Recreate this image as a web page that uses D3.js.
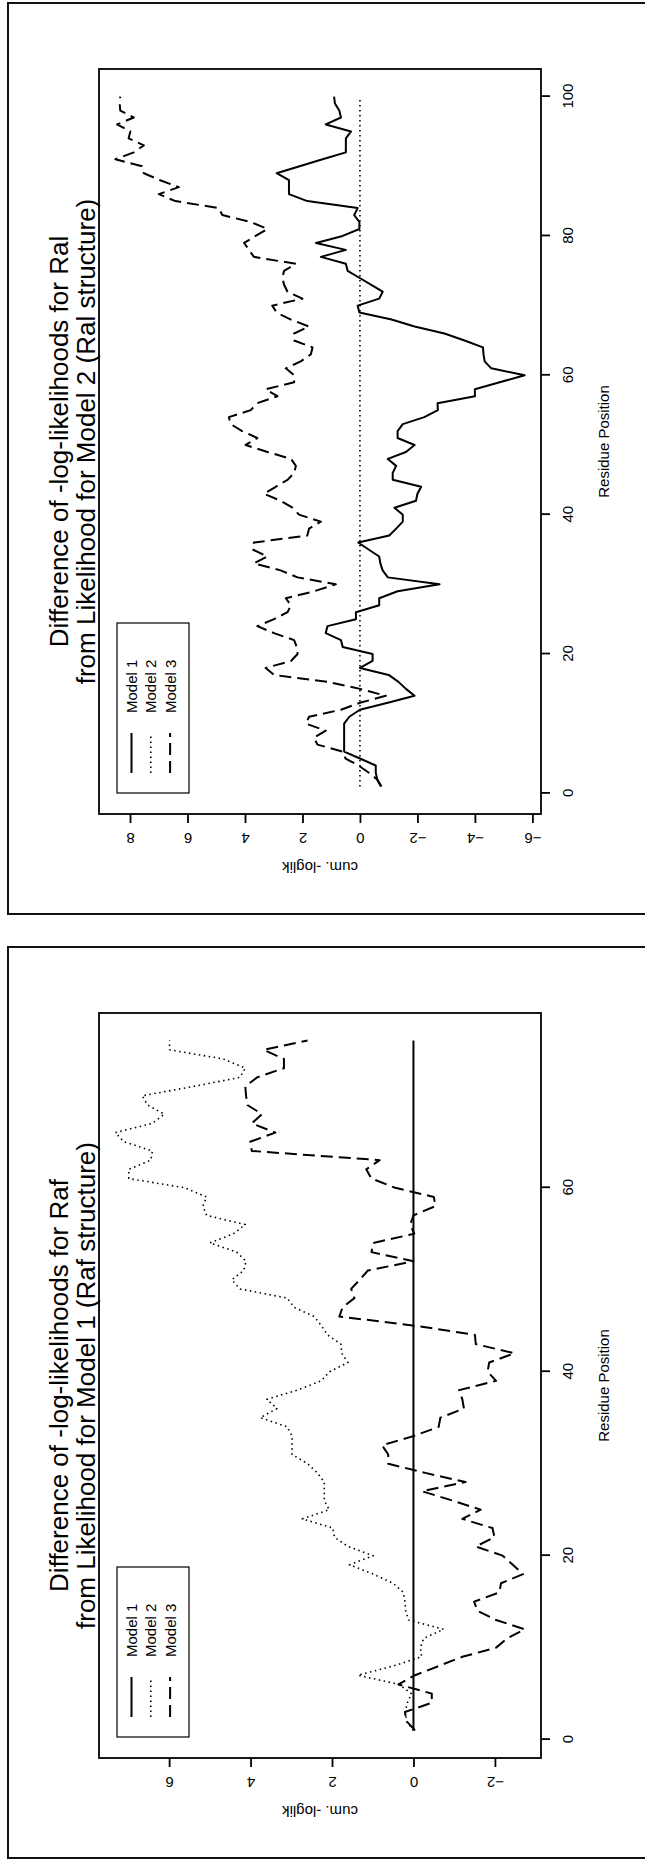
<!DOCTYPE html>
<html>
<head>
<meta charset="utf-8">
<script src="https://cdn.jsdelivr.net/npm/d3@7/dist/d3.min.js"></script>
<style>
  body { margin: 0; background: #fff; }
  svg text { font-family: "Liberation Sans", Arial, sans-serif; fill: #000; }
</style>
</head>
<body>
<svg id="chart" width="645" height="1861"></svg>
<script>
// ---- Ral panel (Model 2 is the reference) ----
const ralTitle = ["Difference of -log-likelihoods for Ral", "from Likelihood for Model 2 (Ral structure)"];
const ralModel1 = [-0.75, -0.6, -0.55, -0.55, 0.0, 0.55, 0.55, 0.55, 0.55, 0.55,
  0.37, 0.0, -0.97, -1.9, -1.6, -1.34, -1.0, 0.0, -0.44, -0.44,
  0.6, 0.66, 1.19, 1.13, 0.14, 0.14, -0.67, -0.67, -1.31, -2.77,
  -0.97, -0.79, -0.71, -0.67, -0.3, 0.06, -1.02, -1.26, -1.49, -1.49,
  -1.2, -1.95, -2.0, -2.13, -1.14, -1.14, -1.26, -0.97, -1.6, -1.9,
  -1.31, -1.31, -1.49, -2.24, -2.71, -2.7, -4.0, -4.0, -4.86, -5.73,
  -4.57, -4.34, -4.3, -4.28, -3.64, -2.94, -1.9, -1.1, 0.02, 0.08,
  -0.67, -0.79, -0.38, 0.02, 0.43, 0.49, 1.36, 0.49, 1.53, 0.6,
  0.02, 0.02, 0.2, 0.08, 1.83, 2.47, 2.47, 2.47, 2.9, 2.1,
  1.3, 0.49, 0.49, 0.49, 0.31, 1.19, 0.66, 0.72, 0.87, 0.9];
const ralModel2 = [0, 0, 0, 0, 0, 0, 0, 0, 0, 0, 0, 0, 0, 0, 0, 0, 0, 0, 0, 0,
  0, 0, 0, 0, 0, 0, 0, 0, 0, 0, 0, 0, 0, 0, 0, 0, 0, 0, 0, 0,
  0, 0, 0, 0, 0, 0, 0, 0, 0, 0, 0, 0, 0, 0, 0, 0, 0, 0, 0, 0,
  0, 0, 0, 0, 0, 0, 0, 0, 0, 0, 0, 0, 0, 0, 0, 0, 0, 0, 0, 0,
  0, 0, 0, 0, 0, 0, 0, 0, 0, 0, 0, 0, 0, 0, 0, 0, 0, 0, 0, 0];
const ralModel3 = [-0.73, -0.6, -0.3, 0.05, 0.5, 0.6, 1.48, 1.6, 1.19, 1.88,
  1.77, 0.66, 0.0, -0.9, 0.0, 1.13, 2.99, 3.28, 2.4, 2.17,
  2.2, 2.29, 2.99, 3.57, 2.99, 2.52, 2.4, 2.58, 1.6, 0.84,
  2.17, 2.76, 3.69, 3.22, 3.74, 3.69, 1.83, 1.77, 1.36, 2.12,
  2.35, 2.76, 3.34, 2.93, 2.52, 2.29, 2.23, 2.4, 3.22, 3.98,
  3.57, 4.1, 4.5, 4.56, 3.8, 3.57, 2.87, 3.28, 2.29, 2.29,
  2.58, 2.06, 1.71, 1.65, 2.29, 2.29, 1.77, 2.4, 2.9, 3.05,
  2.0, 2.52, 2.64, 2.7, 2.64, 2.23, 3.69, 3.86, 4.03, 3.63,
  3.22, 3.8, 4.79, 4.91, 6.42, 7.0, 6.3, 6.95, 7.52, 7.58,
  8.51, 7.87, 7.52, 8.05, 7.99, 8.45, 7.87, 8.34, 8.36, 8.34];
const ralResidueTicks = [0, 20, 40, 60, 80, 100];
const ralValueTicks = [-6, -4, -2, 0, 2, 4, 6, 8];

// ---- Raf panel (Model 1 is the reference) ----
const rafTitle = ["Difference of -log-likelihoods for Raf", "from Likelihood for Model 1 (Raf structure)"];
const rafModel1 = [0, 0, 0, 0, 0, 0, 0, 0, 0, 0, 0, 0, 0, 0, 0, 0, 0, 0, 0, 0,
  0, 0, 0, 0, 0, 0, 0, 0, 0, 0, 0, 0, 0, 0, 0, 0, 0, 0, 0, 0,
  0, 0, 0, 0, 0, 0, 0, 0, 0, 0, 0, 0, 0, 0, 0, 0, 0, 0, 0, 0,
  0, 0, 0, 0, 0, 0, 0, 0, 0, 0, 0, 0, 0, 0, 0, 0];
const rafModel2 = [0.0, 0.17, 0.2, 0.15, 0.05, 0.35, 1.36, 0.5, -0.2, -0.17,
  -0.25, -0.74, 0.12, 0.19, 0.21, 0.25, 0.5, 0.99, 1.57, 0.99,
  1.61, 1.94, 1.98, 2.73, 2.07, 2.19, 2.19, 2.19, 2.36, 2.6,
  2.98, 2.98, 2.98, 3.1, 3.76, 3.35, 3.6, 2.85, 2.27, 2.06,
  1.61, 1.76, 1.78, 2.11, 2.26, 2.44, 2.93, 3.1, 4.26, 4.46,
  4.17, 4.11, 4.34, 5.0, 4.42, 4.13, 5.08, 5.17, 5.08, 5.62,
  6.99, 6.99, 6.45, 6.41, 7.11, 7.32, 6.41, 6.12, 6.53, 6.66,
  5.42, 4.26, 4.13, 4.67, 5.99, 5.99];
const rafModel3 = [-0.04, 0.17, 0.21, -0.45, -0.45, 0.37, -0.04, -0.62, -1.2, -2.03,
  -2.3, -2.73, -2.03, -1.57, -1.49, -2.11, -2.15, -2.69, -2.44, -2.19,
  -1.53, -1.99, -1.94, -1.2, -1.65, -0.95, -0.21, -1.28, -0.29, 0.62,
  0.62, 0.77, 0.0, -0.62, -0.66, -1.24, -1.2, -1.12, -2.03, -1.82,
  -1.86, -2.48, -1.53, -1.51, -0.04, 1.82, 1.74, 1.45, 1.53, 1.32,
  1.12, 0.0, 1.03, 0.99, -0.02, 0.08, 0.0, -0.54, -0.5, 0.45,
  1.03, 1.16, 0.83, 3.97, 4.01, 3.39, 3.97, 3.72, 4.08, 4.11,
  4.13, 3.84, 3.18, 3.18, 3.68, 2.6];
const rafResidueTicks = [0, 20, 40, 60];
const rafValueTicks = [-2, 0, 2, 4, 6];

const legendLabels = ["Model 1", "Model 2", "Model 3"];
const lineDash = [null, "1.5,3.5", "12,6"];
const lineWidth = [2, 1.6, 2];

const svg = d3.select("#chart");

// every panel is an R plot turned 90 degrees counter-clockwise on the page
const pageTop = [3, 947];
const pageHeight = 911;
const plot = { left: 103, right: 848, top: 99, bottom: 541 };

const panels = [
  { title: ralTitle, series: [ralModel1, ralModel2, ralModel3], xTicks: ralResidueTicks, yTicks: ralValueTicks },
  { title: rafTitle, series: [rafModel1, rafModel2, rafModel3], xTicks: rafResidueTicks, yTicks: rafValueTicks }
];

panels.forEach((p, i) => drawPanel(p, pageTop[i]));

function padded(lo, hi) {
  const d = (hi - lo) * 0.04;
  return [lo - d, hi + d];
}

function drawPanel(p, top) {
  // page frame
  svg.append("rect")
    .attr("x", 8).attr("y", top)
    .attr("width", 700).attr("height", pageHeight)
    .attr("fill", "none").attr("stroke", "#111").attr("stroke-width", 2);

  const g = svg.append("g")
    .attr("transform", `translate(0,${top + pageHeight + 3}) rotate(-90)`);

  const n = p.series[0].length;
  const residues = d3.range(1, n + 1);
  const all = p.series.flat();

  const x = d3.scaleLinear().domain(padded(1, n)).range([plot.left, plot.right]);
  const y = d3.scaleLinear().domain(padded(d3.min(all), d3.max(all))).range([plot.bottom, plot.top]);

  // series
  const line = d3.line().x((d, j) => x(residues[j])).y(d => y(d));
  p.series.forEach((s, k) => {
    g.append("path")
      .attr("d", line(s))
      .attr("fill", "none")
      .attr("stroke", "#000")
      .attr("stroke-width", lineWidth[k])
      .attr("stroke-dasharray", lineDash[k])
      .attr("stroke-linejoin", "round");
  });

  // plot box
  g.append("rect")
    .attr("x", plot.left).attr("y", plot.top)
    .attr("width", plot.right - plot.left).attr("height", plot.bottom - plot.top)
    .attr("fill", "none").attr("stroke", "#000").attr("stroke-width", 1.8);

  // residue axis
  const xAxis = g.append("g")
    .attr("transform", `translate(0,${plot.bottom})`)
    .call(d3.axisBottom(x).tickValues(p.xTicks).tickSize(9).tickSizeOuter(0));
  xAxis.select(".domain").remove();
  xAxis.selectAll("line").attr("stroke-width", 1.8);
  xAxis.selectAll("text")
    .attr("y", 27).attr("dy", "0.35em")
    .style("font-size", "15px")
    .style("font-family", "'Liberation Sans', Arial, sans-serif");

  // value axis
  const yAxis = g.append("g")
    .attr("transform", `translate(${plot.left},0)`)
    .call(d3.axisLeft(y).tickValues(p.yTicks).tickSize(9).tickSizeOuter(0));
  yAxis.select(".domain").remove();
  yAxis.selectAll("line").attr("stroke-width", 1.8);
  yAxis.selectAll("text")
    .attr("x", null).attr("dy", null)
    .attr("text-anchor", "middle")
    .attr("dominant-baseline", "central")
    .attr("transform", "translate(-24,0) rotate(-90)")
    .style("font-size", "15px")
    .style("font-family", "'Liberation Sans', Arial, sans-serif");

  const cx = (plot.left + plot.right) / 2;

  // titles
  p.title.forEach((t, k) => {
    g.append("text")
      .attr("x", cx).attr("y", 59 + k * 27)
      .attr("text-anchor", "middle")
      .attr("dominant-baseline", "central")
      .style("font-size", "26px")
      .text(t);
  });

  g.append("text")
    .attr("x", cx).attr("y", 603)
    .attr("text-anchor", "middle")
    .attr("dominant-baseline", "central")
    .style("font-size", "15px")
    .text("Residue Position");

  g.append("text")
    .attr("transform", `translate(50,${(plot.top + plot.bottom) / 2}) rotate(-90)`)
    .attr("text-anchor", "middle")
    .attr("dominant-baseline", "central")
    .style("font-size", "15px")
    .text("cum. -loglik");

  // legend
  const lg = g.append("g");
  lg.append("rect")
    .attr("x", 124).attr("y", 117).attr("width", 170).attr("height", 72)
    .attr("fill", "#fff").attr("stroke", "#000").attr("stroke-width", 1.2);
  legendLabels.forEach((label, k) => {
    const ly = 131.5 + k * 19.3;
    lg.append("line")
      .attr("x1", 144).attr("x2", 184).attr("y1", ly).attr("y2", ly)
      .attr("stroke", "#000")
      .attr("stroke-width", lineWidth[k])
      .attr("stroke-dasharray", lineDash[k]);
    lg.append("text")
      .attr("x", 204).attr("y", ly)
      .attr("dominant-baseline", "central")
      .style("font-size", "15px")
      .text(label);
  });
}
</script>
</body>
</html>
